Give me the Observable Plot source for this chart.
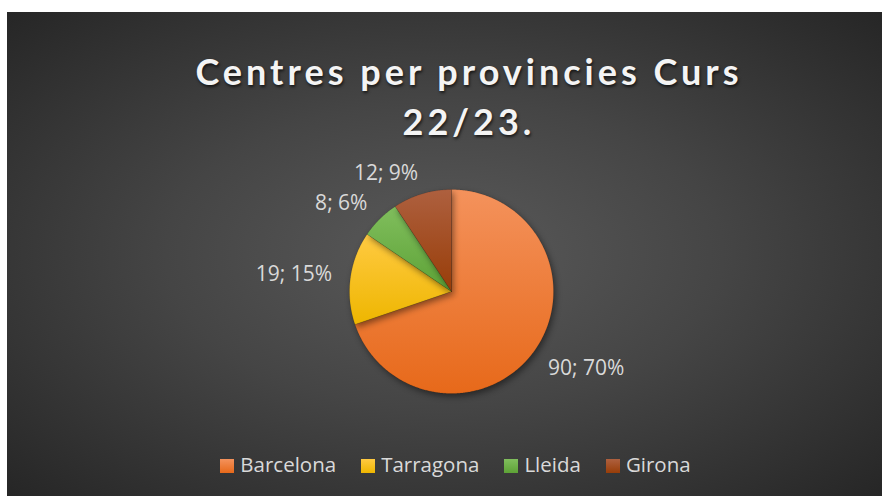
<!DOCTYPE html>
<html>
<head>
<meta charset="utf-8">
<script src="https://cdn.jsdelivr.net/npm/d3@7"></script>
<script src="https://cdn.jsdelivr.net/npm/@observablehq/plot@0.6"></script>
<style>
  html, body { margin: 0; padding: 0; background: #ffffff; }
  #chart {
    position: absolute; left: 7px; top: 12px; width: 875px; height: 484px;
    background: radial-gradient(ellipse farthest-corner at 50% 50%, #5a5a5a 0%, #454545 45%, #262626 100%);
    overflow: hidden;
  }
  #title {
    padding-top: 34px; padding-left: 49px;
    font-family: Lato, sans-serif; font-weight: 700; font-size: 36px; line-height: 50px;
    letter-spacing: 4px; color: #f4f4f4; text-align: center;
    text-shadow: 1px 2px 3px rgba(0,0,0,0.65);
  }
  #plot { height: 290px; }
  #plot svg { display: block; overflow: visible; }
  #legend {
    margin-top: 16px; padding-left: 22px; text-align: center;
    font-family: "Open Sans", sans-serif; font-size: 20.5px; line-height: 24px; color: #d9d9d9;
  }
  .item { display: inline-block; margin: 0 12.5px; white-space: nowrap; }
  .sw { display: inline-block; width: 14px; height: 14px; margin-right: 6px; vertical-align: -1px; }
</style>
</head>
<body>
<div id="chart">
  <div id="title">Centres per provincies Curs<br>22/23.</div>
  <div id="plot"></div>
  <div id="legend"></div>
</div>
<script>
const titleText = "Centres per provincies Curs 22/23.";
const provinces = ["Barcelona", "Tarragona", "Lleida", "Girona"];
const centres = [90, 19, 8, 12];
const topColors = ["#F4925C", "#FFCA42", "#80BE5D", "#AE603F"];
const bottomColors = ["#E7691A", "#EEB600", "#5DA236", "#983D08"];

const W = 875, H = 290, R = 102, CX = 444, CY = 145;
const total = d3.sum(centres);
const arcs = d3.pie().sort(null).value(d => d)(centres);

const slices = arcs.map((a, i) => {
  const n = Math.max(2, Math.ceil((a.endAngle - a.startAngle) / (Math.PI / 360)));
  const pts = [{x: 0, y: 0}];
  for (let k = 0; k <= n; k++) {
    const t = a.startAngle + (a.endAngle - a.startAngle) * k / n;
    pts.push({x: Math.sin(t), y: Math.cos(t)});
  }
  pts.push({x: 0, y: 0});
  return pts;
});

const labels = arcs.map((a, i) => {
  const mid = (a.startAngle + a.endAngle) / 2;
  return {
    text: `${centres[i]}; ${Math.round(centres[i] / total * 100)}%`,
    x: 1.2 * Math.sin(mid),
    y: 1.2 * Math.cos(mid),
    right: Math.sin(mid) >= 0
  };
});

const plot = Plot.plot({
  width: W, height: H, margin: 0,
  x: {domain: [-CX / R, (W - CX) / R], range: [0, W], axis: null},
  y: {domain: [-(H - CY) / R, CY / R], range: [H, 0], axis: null},
  style: {background: "transparent", overflow: "visible"},
  marks: [
    ...slices.map((pts, i) => Plot.line(pts, {
      x: "x", y: "y", fill: `url(#grad${i})`, stroke: "rgba(0,0,0,0.18)", strokeWidth: 0.6, curve: "linear"
    })),
    Plot.text(labels.filter(d => d.right), {
      x: "x", y: "y", text: "text", textAnchor: "start", dx: -3, dy: 6,
      fill: "#d9d9d9", fontSize: 21, fontFamily: "Open Sans"
    }),
    Plot.text(labels.filter(d => !d.right), {
      x: "x", y: "y", text: "text", textAnchor: "end", dx: 2, dy: -1,
      fill: "#d9d9d9", fontSize: 21, fontFamily: "Open Sans"
    })
  ]
});

const svg = d3.select(plot);
const defs = svg.insert("defs", ":first-child");
provinces.forEach((p, i) => {
  const g = defs.append("linearGradient").attr("id", `grad${i}`)
    .attr("x1", 0).attr("y1", 0).attr("x2", 0).attr("y2", 1);
  g.append("stop").attr("offset", "0%").attr("stop-color", topColors[i]);
  g.append("stop").attr("offset", "100%").attr("stop-color", bottomColors[i]);
});
svg.selectAll("path").filter(function() {
  return (this.getAttribute("fill") || "").startsWith("url(") ||
         (this.parentNode.getAttribute("fill") || "").startsWith("url(");
}).style("filter", "drop-shadow(2px 3px 3px rgba(0,0,0,0.45))");

document.getElementById("plot").appendChild(plot);

const legend = d3.select("#legend");
provinces.forEach((p, i) => {
  const item = legend.append("span").attr("class", "item");
  item.append("span").attr("class", "sw")
    .style("background", `linear-gradient(${topColors[i]}, ${bottomColors[i]})`);
  item.append("span").text(p);
});
</script>
</body>
</html>
